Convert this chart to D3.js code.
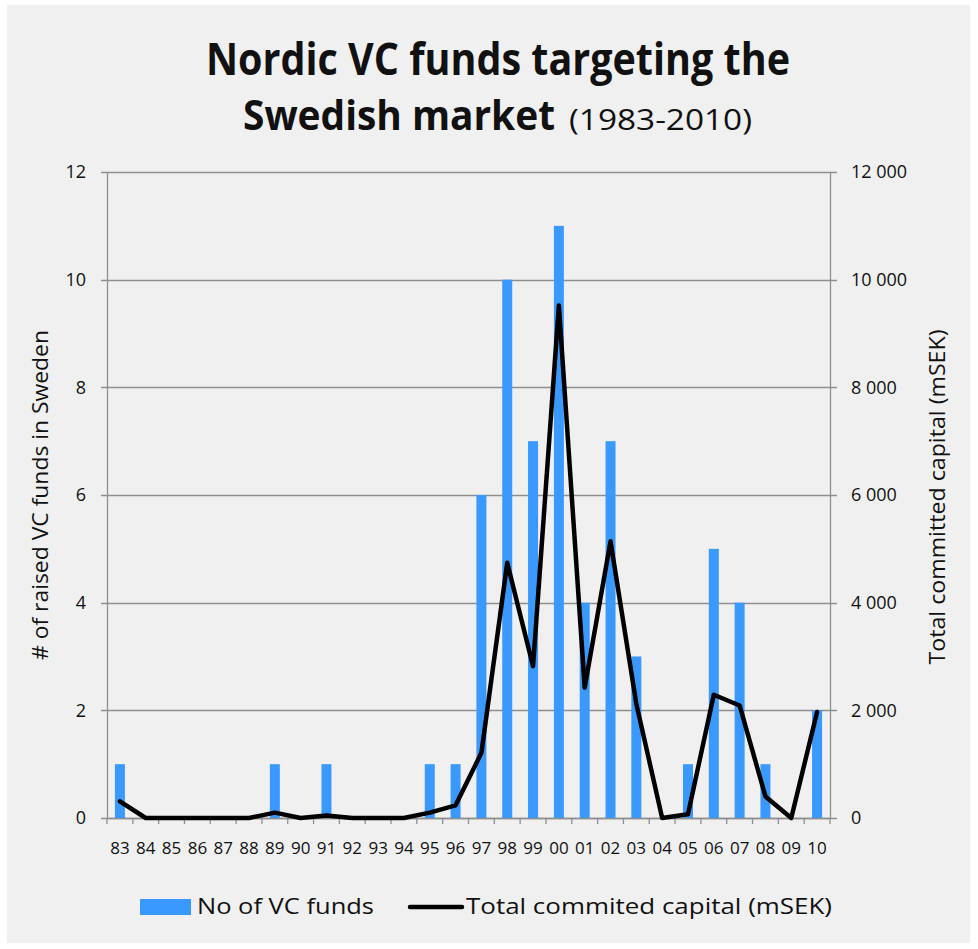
<!DOCTYPE html>
<html>
<head>
<meta charset="utf-8">
<script src="https://cdn.jsdelivr.net/npm/d3@7"></script>
<style>
  body { margin: 0; background: #fff; }
  svg text { font-family: "Open Sans", "Noto Sans", sans-serif; fill: #111; }
</style>
</head>
<body>
<div id="root"></div>
<script>
// years shown on the x axis
var years = ["83","84","85","86","87","88","89","90","91","92","93","94","95","96","97","98","99","00","01","02","03","04","05","06","07","08","09","10"];
// number of VC funds raised (left axis)
var funds = [1,0,0,0,0,0,1,0,1,0,0,0,1,1,6,10,7,11,4,7,3,0,1,5,4,1,0,2];
// total committed capital, mSEK (right axis)
var capital = [310,0,0,0,0,0,100,0,45,0,0,0,100,235,1210,4740,2820,9520,2420,5140,2120,0,70,2290,2090,400,0,1970];
var leftTicks = [0,2,4,6,8,10,12];
var rightTicks = [0,2000,4000,6000,8000,10000,12000];

var width = 978, height = 949;
var margin = {top: 172, right: 148, bottom: 131, left: 107};

var svg = d3.select("#root").append("svg")
  .attr("width", width)
  .attr("height", height);

svg.append("rect")
  .attr("x", 7).attr("y", 5)
  .attr("width", 963).attr("height", 938)
  .attr("fill", "#f0f0f0");

var x = d3.scaleBand()
  .domain(years)
  .range([margin.left, width - margin.right]);

var yL = d3.scaleLinear().domain([0, 12]).range([height - margin.bottom, margin.top]);
var yR = d3.scaleLinear().domain([0, 12000]).range([height - margin.bottom, margin.top]);

var fmt = function(d) { return d3.format(",")(d).replace(/,/g, " "); };

// gridlines
svg.append("g")
  .selectAll("line")
  .data(leftTicks)
  .enter().append("line")
  .attr("x1", margin.left - 6)
  .attr("x2", width - margin.right + 7)
  .attr("y1", function(d) { return Math.round(yL(d)) + 0.5; })
  .attr("y2", function(d) { return Math.round(yL(d)) + 0.5; })
  .attr("stroke", "#8e8e8e")
  .attr("stroke-width", 1.3);

// left axis
var gL = svg.append("g")
  .attr("transform", "translate(" + margin.left + ",0)")
  .call(d3.axisLeft(yL).tickValues(leftTicks).tickSize(0).tickPadding(21));
gL.select(".domain").attr("stroke", "#8e8e8e").attr("stroke-width", 1.3);
gL.selectAll("text").attr("font-size", 18).attr("fill", "#111")
  .style("font-family", "'Open Sans', sans-serif");

// right axis
var gR = svg.append("g")
  .attr("transform", "translate(" + (width - margin.right) + ",0)")
  .call(d3.axisRight(yR).tickValues(rightTicks).tickFormat(fmt).tickSize(0).tickPadding(21));
gR.select(".domain").attr("stroke", "#8e8e8e").attr("stroke-width", 1.3);
gR.selectAll("text").attr("font-size", 18).attr("fill", "#111")
  .style("font-family", "'Open Sans', sans-serif");

// bottom axis
var gB = svg.append("g")
  .attr("transform", "translate(0," + (height - margin.bottom) + ")")
  .call(d3.axisBottom(x).tickSize(0).tickPadding(24));
gB.select(".domain").attr("stroke", "#8e8e8e").attr("stroke-width", 1.3);
gB.selectAll("text").attr("font-size", 17).attr("fill", "#111")
  .style("font-family", "'Open Sans', sans-serif");
// tick marks between categories
gB.selectAll(".sep")
  .data(years.concat(["end"]))
  .enter().append("line")
  .attr("class", "sep")
  .attr("x1", function(d, i) { return margin.left + i * x.step(); })
  .attr("x2", function(d, i) { return margin.left + i * x.step(); })
  .attr("y1", 0).attr("y2", 6)
  .attr("stroke", "#8e8e8e")
  .attr("stroke-width", 1.3);

// bars
var barW = 10;
svg.append("g")
  .selectAll("rect")
  .data(funds)
  .enter().append("rect")
  .attr("x", function(d, i) { return x(years[i]) + x.bandwidth() / 2 - barW / 2; })
  .attr("y", function(d) { return yL(d); })
  .attr("width", barW)
  .attr("height", function(d) { return yL(0) - yL(d); })
  .attr("fill", "#3999ff");

// line
var line = d3.line()
  .x(function(d, i) { return x(years[i]) + x.bandwidth() / 2; })
  .y(function(d) { return yR(d); });

svg.append("path")
  .datum(capital)
  .attr("d", line)
  .attr("fill", "none")
  .attr("stroke", "#000")
  .attr("stroke-width", 4.5)
  .attr("stroke-linejoin", "round")
  .attr("stroke-linecap", "round");

// axis titles
svg.append("text")
  .attr("transform", "translate(48," + 495 + ")rotate(-90)")
  .attr("text-anchor", "middle")
  .attr("font-size", 21)
  .attr("textLength", 330).attr("lengthAdjust", "spacingAndGlyphs")
  .text("# of raised VC funds in Sweden");

svg.append("text")
  .attr("transform", "translate(945," + 497 + ")rotate(-90)")
  .attr("text-anchor", "middle")
  .attr("font-size", 21)
  .attr("textLength", 335).attr("lengthAdjust", "spacingAndGlyphs")
  .text("Total committed capital (mSEK)");

// title
svg.append("text")
  .attr("x", 206).attr("y", 75)
  .attr("font-size", 44).attr("font-weight", "bold")
  .attr("textLength", 584).attr("lengthAdjust", "spacingAndGlyphs")
  .text("Nordic VC funds targeting the");

svg.append("text")
  .attr("x", 243).attr("y", 130)
  .attr("font-size", 42).attr("font-weight", "bold")
  .attr("textLength", 312).attr("lengthAdjust", "spacingAndGlyphs")
  .text("Swedish market");

svg.append("text")
  .attr("x", 569).attr("y", 130)
  .attr("font-size", 30)
  .attr("textLength", 183).attr("lengthAdjust", "spacingAndGlyphs")
  .text("(1983-2010)");

// legend
var leg = svg.append("g").attr("transform", "translate(0,907)");
leg.append("rect")
  .attr("x", 140).attr("y", -8)
  .attr("width", 51).attr("height", 16)
  .attr("fill", "#3999ff");
leg.append("text")
  .attr("x", 197).attr("y", 7)
  .attr("font-size", 21)
  .attr("textLength", 177).attr("lengthAdjust", "spacingAndGlyphs")
  .text("No of VC funds");
leg.append("line")
  .attr("x1", 410).attr("x2", 462)
  .attr("y1", 0).attr("y2", 0)
  .attr("stroke", "#000").attr("stroke-width", 4.5)
  .attr("stroke-linecap", "round");
leg.append("text")
  .attr("x", 466).attr("y", 7)
  .attr("font-size", 21)
  .attr("textLength", 366).attr("lengthAdjust", "spacingAndGlyphs")
  .text("Total commited capital (mSEK)");
</script>
</body>
</html>
